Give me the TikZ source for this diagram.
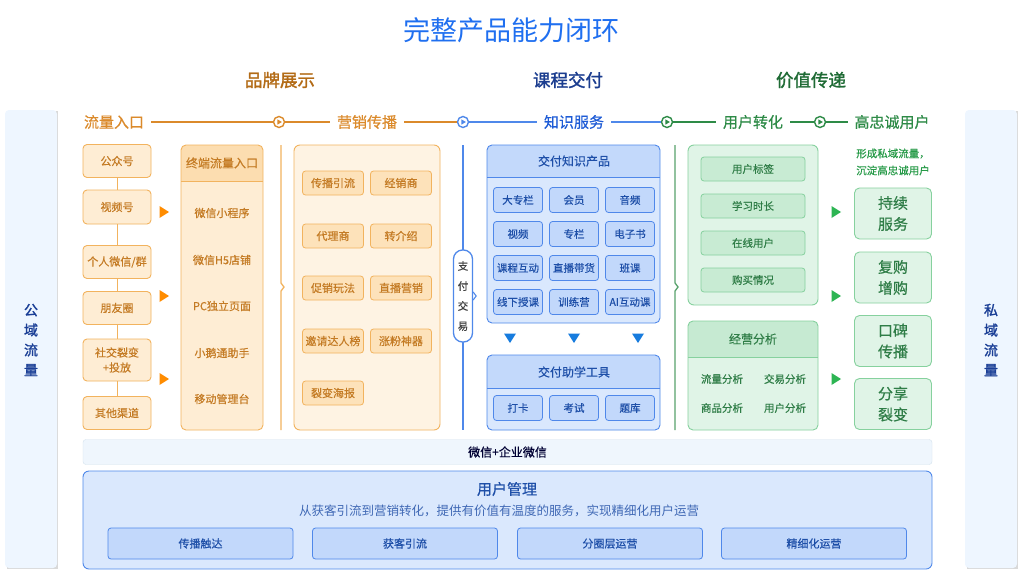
\documentclass[tikz,border=0pt]{standalone}
\usepackage{fontspec}
\setmainfont{Noto Sans CJK SC}[AutoFakeBold=1.6]
\newfontfamily\med{Noto Sans CJK SC}[FakeBold=0.5]
\newcommand\fsz[2]{\fontsize{#1pt}{#2pt}\selectfont}
\definecolor{titleblue}{HTML}{1F6FF0}
\definecolor{hbrown}{HTML}{B36B16}
\definecolor{hblue}{HTML}{1B3D8F}
\definecolor{hgreen}{HTML}{1F6B35}
\definecolor{oline}{HTML}{F2B35E}
\definecolor{ostage}{HTML}{DB8A2B}
\definecolor{otext}{HTML}{C47B24}
\definecolor{ofill}{HTML}{FEEDD4}
\definecolor{olight}{HTML}{FEF3E3}
\definecolor{ohead}{HTML}{FCDDB0}
\definecolor{otag}{HTML}{FDE2BA}
\definecolor{bline}{HTML}{4F88EA}
\definecolor{bstage}{HTML}{1D5BD6}
\definecolor{btext}{HTML}{1E4FA8}
\definecolor{bfill}{HTML}{DAE8FD}
\definecolor{bhead}{HTML}{C3D9FB}
\definecolor{btag}{HTML}{C2D8FB}
\definecolor{gline}{HTML}{86D19E}
\definecolor{gstage}{HTML}{2E8B47}
\definecolor{gtext}{HTML}{2F7D47}
\definecolor{gfill}{HTML}{E0F4E7}
\definecolor{ghead}{HTML}{C6EAD2}
\definecolor{gtag}{HTML}{C8EBD3}
\definecolor{gmark}{HTML}{2DB553}
\definecolor{panel}{HTML}{EEF6FF}
\definecolor{ptext}{HTML}{1A3E96}
\definecolor{wxfill}{HTML}{EFF6FD}
\definecolor{wxline}{HTML}{D5E3EE}
\newcommand\headbox[8]{%
  \fill[#6,rounded corners=5] (#1,#2) rectangle (#3,#4);
  \begin{scope}\clip[rounded corners=5] (#1,#2) rectangle (#3,#4);
  \fill[#7] (#1,#2) rectangle (#3,#5);\end{scope}
  \draw[#8,line width=0.9] (#1,#5) -- (#3,#5);
  \draw[#8,line width=0.9,rounded corners=5] (#1,#2) rectangle (#3,#4);}
\newcommand\playc[4]{%
  \node[circle, draw=#4, fill=white, line width=1.4, minimum size=11, inner sep=0] (#1) at (#2,#3) {};
  \fill[#4] (#2-1.7,#3-2.7) -- (#2+2.9,#3) -- (#2-1.7,#3+2.7) -- cycle;}
\newcommand\rtri[3]{\fill[#3] (#1-4.5,#2-6) -- (#1+5,#2) -- (#1-4.5,#2+6) -- cycle;}
\newcommand\dtri[3]{\fill[#3] (#1-6,#2-4.5) -- (#1+6,#2-4.5) -- (#1,#2+5) -- cycle;}
\tikzset{
  stage/.style={inner sep=0, inner xsep=7, font=\med\fsz{15}{18}},
  obox/.style={draw=oline, fill=ofill, rounded corners=4, minimum width=68, minimum height=33, inner sep=0, text=otext, font=\med\fsz{11}{15}, align=center, line width=0.9},
  otagbox/.style={draw=oline, fill=otag, rounded corners=3, minimum width=61, minimum height=24, inner sep=0, text=otext, font=\med\fsz{11}{14}, line width=0.8},
  otxt/.style={inner sep=0, text=otext, font=\med\fsz{11}{14}},
  btagbox/.style={draw=bline, fill=btag, rounded corners=3, minimum width=49, minimum height=25, inner sep=0, text=btext, font=\med\fsz{10.5}{14}, line width=0.8},
  btxt/.style={inner sep=0, text=btext, font=\med\fsz{12}{14}},
  gtagbox/.style={draw=gline, fill=gtag, rounded corners=3, minimum width=104, minimum height=24, inner sep=0, text=gtext, font=\med\fsz{10.5}{14}, line width=0.8},
  gtxt/.style={inner sep=0, text=gtext, font=\med\fsz{10.5}{14}},
  gbig/.style={draw=gline, fill=gfill, rounded corners=5, minimum width=77, minimum height=51, inner sep=0, text=gtext, font=\med\fsz{15}{21}, align=center, line width=0.9},
  utag/.style={draw=bline, fill=btag, rounded corners=3, minimum width=185, minimum height=31, inner sep=0, text=btext, font=\med\fsz{11}{14}, line width=0.8},
  ptxt/.style={inner sep=0, text=ptext, font=\bfseries\fsz{14}{20}, align=center},
}
\begin{document}
\begin{tikzpicture}[x=1pt,y=-1pt]
\useasboundingbox (0,0) rectangle (1028,587);
\fill[white] (0,0) rectangle (1028,587);

% title and section headings
\node[inner sep=0, text=titleblue, font=\fsz{27}{30}] (title) at (511,30) {完整产品能力闭环};
\node[inner sep=0, text=hbrown, font=\bfseries\fsz{17.5}{20}] (h1) at (280,80) {品牌展示};
\node[inner sep=0, text=hblue, font=\bfseries\fsz{17.5}{20}] (h2) at (568,80) {课程交付};
\node[inner sep=0, text=hgreen, font=\bfseries\fsz{17.5}{20}] (h3) at (811,80) {价值传递};

% side panels
\fill[gray!30] (6.5,111) rectangle (58,568.5);
\node[fill=panel, rounded corners=4, minimum width=52, minimum height=458, inner sep=0] (lp) at (31,339) {};
\node[ptxt] (lpt) at (31,340) {公\\域\\流\\量};
\fill[gray!30] (966.5,111) rectangle (1018,568.5);
\node[fill=panel, rounded corners=4, minimum width=52, minimum height=458, inner sep=0] (rp) at (991,339) {};
\node[ptxt] (rpt) at (991,340) {私\\域\\流\\量};

% stage header row
\node[stage, text=ostage] (s1) at (114,122) {流量入口};
\node[stage, text=ostage] (s2) at (367,122) {营销传播};
\node[stage, text=bstage] (s3) at (574,122) {知识服务};
\node[stage, text=gstage] (s4) at (753,122) {用户转化};
\node[stage, text=gstage, inner xsep=6] (s5) at (892,122) {高忠诚用户};
\playc{c1}{279}{122}{ostage}
\playc{c2}{463}{122}{bline}
\playc{c3}{667}{122}{gstage}
\playc{c4}{820}{122}{gstage}
\draw[ostage, line width=1.3] (s1) -- (c1);
\draw[ostage, line width=1.3] (c1) -- (s2);
\draw[ostage, line width=1.3] (s2) -- (c2);
\draw[bline, line width=1.3] (c2) -- (s3);
\draw[bline, line width=1.3] (s3) -- (c3);
\draw[gstage, line width=1.3] (c3) -- (s4);
\draw[gstage, line width=1.3] (s4) -- (c4);
\draw[gstage, line width=1.3] (c4) -- (s5);

% column 1
\node[obox] (gzh) at (117,161) {公众号};
\node[obox, minimum height=34] (sph) at (117,207) {视频号};
\node[obox] (grwx) at (117,262) {个人微信/群};
\node[obox] (pyq) at (117,308) {朋友圈};
\node[obox, minimum height=42] (sjlb) at (117,360) {社交裂变\\+投放};
\node[obox] (qtqd) at (117,413) {其他渠道};
\draw[oline, line width=0.9] (gzh) -- (sph);
\draw[oline, line width=0.9] (sph) -- (grwx);
\draw[oline, line width=0.9] (grwx) -- (pyq);
\draw[oline, line width=0.9] (pyq) -- (sjlb);
\draw[oline, line width=0.9] (sjlb) -- (qtqd);
\rtri{164}{212}{orange!90!yellow}
\rtri{164}{296}{orange!90!yellow}
\rtri{164}{379}{orange!90!yellow}

% column 2
\headbox{181}{145}{263}{430}{181}{ofill}{ohead}{oline}
\node[inner sep=0, text=otext, font=\med\fsz{12}{14}] (zd) at (222,163) {终端流量入口};
\node[otxt] (xcx) at (222,213) {微信小程序};
\node[otxt] (h5) at (222,260) {微信H5店铺};
\node[otxt] (pc) at (222,306) {PC独立页面};
\node[otxt] (xet) at (222,353) {小鹅通助手};
\node[otxt] (yd) at (222,399) {移动管理台};

% orange separator
\draw[oline, line width=1.3] (281,145) -- (281,283) -- (284,287) -- (281,291) -- (281,430);

% column 3
\draw[oline, fill=olight, rounded corners=6, line width=0.9] (294,145) rectangle (440,430);
\node[otagbox] (t1) at (333,183) {传播引流};
\node[otagbox] (t2) at (401,183) {经销商};
\node[otagbox] (t3) at (333,236) {代理商};
\node[otagbox] (t4) at (401,236) {转介绍};
\node[otagbox] (t5) at (333,288) {促销玩法};
\node[otagbox] (t6) at (401,288) {直播营销};
\node[otagbox] (t7) at (333,341) {邀请达人榜};
\node[otagbox] (t8) at (401,341) {涨粉神器};
\node[otagbox] (t9) at (333,393) {裂变海报};

% blue separator with pill
\draw[bline, line width=1.3] (463,145) -- (463,430);
\node[draw=bline, fill=white, line width=1.3, rounded corners=9, minimum width=19, minimum height=92, inner sep=0, text=black!75, font=\med\fsz{10.5}{20}, align=center] (pay) at (463,296) {支\\付\\交\\易};
\draw[bline, line width=1.1] (pay.east) ++(0,-4) -- ++(3,4) -- ++(-3,4);

% column 4
\headbox{487}{145}{660}{323}{177}{bfill}{bhead}{bline}
\node[btxt] (zsp) at (574,161) {交付知识产品};
\node[btagbox] (k1) at (518,200) {大专栏};
\node[btagbox] (k2) at (574,200) {会员};
\node[btagbox] (k3) at (630,200) {音频};
\node[btagbox] (k4) at (518,234) {视频};
\node[btagbox] (k5) at (574,234) {专栏};
\node[btagbox] (k6) at (630,234) {电子书};
\node[btagbox] (k7) at (518,268) {课程互动};
\node[btagbox] (k8) at (574,268) {直播带货};
\node[btagbox] (k9) at (630,268) {班课};
\node[btagbox] (k10) at (518,302) {线下授课};
\node[btagbox] (k11) at (574,302) {训练营};
\node[btagbox] (k12) at (630,302) {AI互动课};
\dtri{510}{338}{bstage!80!cyan}
\dtri{574}{338}{bstage!80!cyan}
\dtri{638}{338}{bstage!80!cyan}
\headbox{487}{355}{660}{430}{388}{bfill}{bhead}{bline}
\node[btxt] (zxt) at (574,372) {交付助学工具};
\node[btagbox] (d1) at (518,408) {打卡};
\node[btagbox] (d2) at (574,408) {考试};
\node[btagbox] (d3) at (630,408) {题库};

% green separator
\draw[gstage!80!white, line width=1.3] (675,145) -- (675,283) -- (678,287) -- (675,291) -- (675,430);

% column 5
\draw[gline, fill=gfill, rounded corners=6, line width=0.9] (688,145) rectangle (818,305);
\node[gtagbox] (u1) at (753,169) {用户标签};
\node[gtagbox] (u2) at (753,206) {学习时长};
\node[gtagbox] (u3) at (753,243) {在线用户};
\node[gtagbox] (u4) at (753,280) {购买情况};
\headbox{688}{321}{818}{430}{357}{gfill}{ghead}{gline}
\node[inner sep=0, text=gtext, font=\med\fsz{12}{14}] (jy) at (753,339) {经营分析};
\node[gtxt] (a1) at (722,379) {流量分析};
\node[gtxt] (a2) at (785,379) {交易分析};
\node[gtxt] (a3) at (722,408) {商品分析};
\node[gtxt] (a4) at (785,408) {用户分析};
\rtri{836}{212}{gmark}
\rtri{836}{296}{gmark}
\rtri{836}{379}{gmark}

% column 6
\node[inner sep=0, text=gmark!85!black, font=\med\fsz{10.5}{17}, align=center] (xc) at (893,162) {形成私域流量，\\沉淀高忠诚用户};
\node[gbig] (p1) at (893,213.5) {持续\\服务};
\node[gbig] (p2) at (893,277.5) {复购\\增购};
\node[gbig] (p3) at (893,341) {口碑\\传播};
\node[gbig] (p4) at (893,404) {分享\\裂变};

% bottom
\node[draw=wxline, fill=wxfill, rounded corners=3, minimum width=849, minimum height=25, inner sep=0, text=black!80!blue, font=\med\fsz{12}{14}] (wx) at (507.5,452) {微信+企业微信};
\node[draw=bline, fill=bfill, rounded corners=6, minimum width=849, minimum height=98, inner sep=0, line width=0.9] (um) at (507.5,520) {};
\node[inner sep=0, text=btext, font=\med\fsz{15}{18}] (umt) at (507,489) {用户管理};
\node[inner sep=0, text=btext!85!white, font=\fsz{12.5}{15}] (ums) at (499,511) {从获客引流到营销转化，提供有价值有温度的服务，实现精细化用户运营};
\node[utag] (b1) at (200.5,543.5) {传播触达};
\node[utag] (b2) at (405,543.5) {获客引流};
\node[utag] (b3) at (610,543.5) {分圈层运营};
\node[utag] (b4) at (814,543.5) {精细化运营};
\end{tikzpicture}
\end{document}
